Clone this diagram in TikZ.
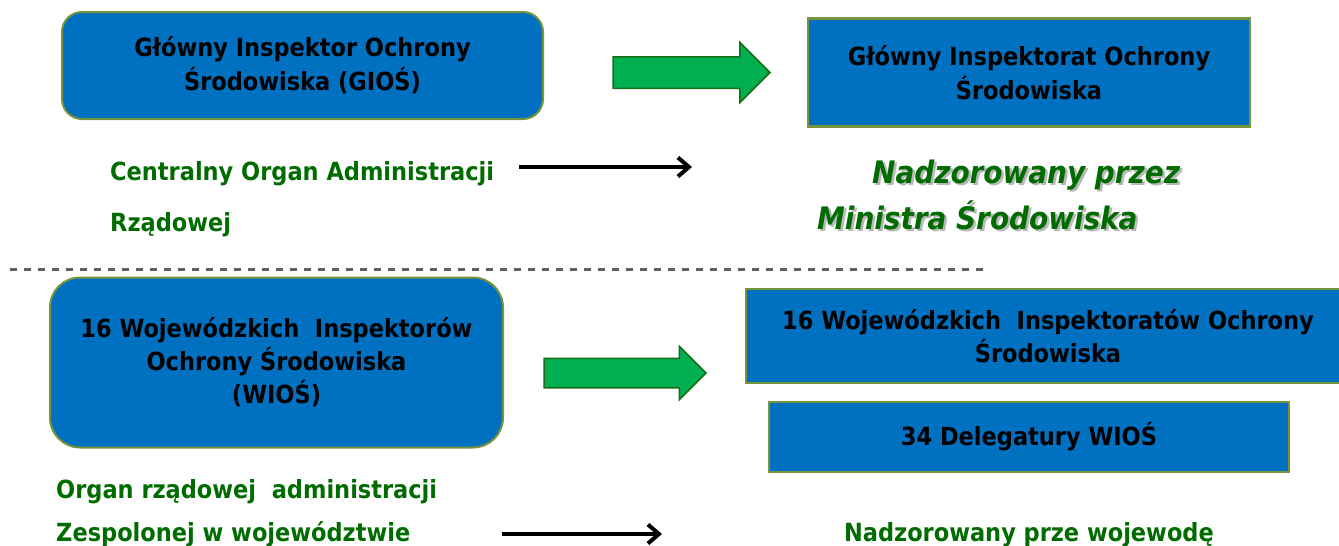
\documentclass[tikz,border=0pt]{standalone}
\usepackage{fontspec}
\setmainfont{DejaVu Sans Condensed}
\usepackage{tikz}
\usetikzlibrary{arrows.meta,positioning,shapes.arrows}

\definecolor{boxblue}{RGB}{0,112,192}
\definecolor{boxrim}{RGB}{119,147,60}
\definecolor{arrowgreen}{RGB}{0,176,80}
\definecolor{arrowrim}{RGB}{24,110,24}
\definecolor{textgreen}{RGB}{0,108,0}
\definecolor{dashgray}{RGB}{95,95,95}

\newcommand{\shadowed}[1]{\makebox[0pt][l]{\kern2.5pt\raisebox{-2.5pt}{\color{black!28}#1}}#1}

\tikzset{
  boxtext/.style={align=center, text=black, font=\fontsize{25}{34}\selectfont\bfseries},
  roundbox/.style={boxtext, draw=boxrim, line width=2pt, fill=boxblue, rounded corners=20pt},
  flatbox/.style={boxtext, draw=boxrim, line width=2.5pt, fill=boxblue},
  bigarrow/.style={single arrow, draw=arrowrim, fill=arrowgreen, line width=1.5pt,
    inner xsep=0pt, outer sep=0pt, anchor=tail},
  greentext/.style={text=textgreen, font=\fontsize{25}{30}\selectfont\bfseries, inner sep=0pt},
  slanttext/.style={text=textgreen, font=\fontsize{31}{34}\selectfont\bfseries\itshape, inner sep=0pt, anchor=base west},
  link/.style={-{Straight Barb[length=11pt,width=19pt,line width=4pt]}, line width=4pt}
}

\begin{document}
\begin{tikzpicture}[x=1pt,y=-1pt]
\useasboundingbox (0,0) rectangle (1339,546);

% upper level
\node[roundbox, minimum width=481pt, minimum height=107pt] (gios) at (302.5,65.5)
  {Główny Inspektor Ochrony\\Środowiska (GIOŚ)};
\node[flatbox, minimum width=442pt, minimum height=108pt] (gi) at (1029,72.5)
  {Główny Inspektorat Ochrony\\Środowiska};
\node[bigarrow, minimum height=157pt, inner ysep=15pt, single arrow head extend=14.5pt] (a1) at (613,72.5) {};

\node[greentext, anchor=base west] (cent) at (110,180) {Centralny Organ Administracji};
\node[greentext, anchor=base west] (rzad) at (110,231) {Rządowej};
\coordinate (l1a) at (519,167);
\coordinate (l1b) at (692,167);
\draw[link] (l1a) -- (l1b);

\node[slanttext] (nadz) at (872,183) {\shadowed{Nadzorowany przez}};
\node[slanttext] (min) at (817,229) {\shadowed{Ministra Środowiska}};

% separator
\coordinate (sepa) at (10,269);
\coordinate (sepb) at (985,269);
\draw[dashgray, line width=3pt, dash pattern=on 7pt off 7pt] (sepa) -- (sepb);

% lower level
\node[roundbox, rounded corners=30pt, minimum width=453pt, minimum height=170pt, font=\fontsize{25}{33}\selectfont\bfseries] (wios) at (276.5,362.5)
  {16 Wojewódzkich~~Inspektorów\\Ochrony Środowiska\\(WIOŚ)};
\node[flatbox, minimum width=604pt, minimum height=94pt, font=\fontsize{25}{33}\selectfont\bfseries] (wi) at (1048,336)
  {16 Wojewódzkich~~Inspektoratów Ochrony\\Środowiska};
\node[flatbox, minimum width=520pt, minimum height=70pt] (del) at (1029,437)
  {34 Delegatury WIOŚ};
\node[bigarrow, minimum height=162pt, inner ysep=14pt, single arrow head extend=12pt] (a2) at (544,373) {};

\node[greentext, anchor=base west] (organ) at (56,498) {Organ rządowej~~administracji};
\node[greentext, anchor=base west] (zesp) at (56,541) {Zespolonej w województwie};
\coordinate (l2a) at (502,534);
\coordinate (l2b) at (662,534);
\draw[link] (l2a) -- (l2b);

\node[greentext, anchor=base] (woj) at (1029,541) {Nadzorowany prze wojewodę};
\end{tikzpicture}
\end{document}
